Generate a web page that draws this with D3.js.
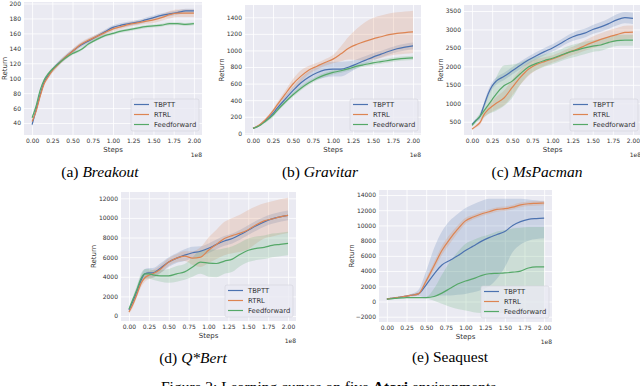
<!DOCTYPE html>
<html><head><meta charset="utf-8">
<script src="https://cdn.jsdelivr.net/npm/d3@7"></script>
<style>
body{margin:0;background:#fff;}
svg{display:block;}
</style></head>
<body>
<svg id="fig" width="640" height="386"></svg>
<script>
// ---------------- data ----------------
const steps = [0, 0.05, 0.1, 0.15, 0.2, 0.25, 0.3, 0.4, 0.5, 0.6, 0.7, 0.8, 0.9, 1.0, 1.1, 1.2, 1.3, 1.4, 1.5, 1.6, 1.7, 1.8, 1.9, 2.0];
const seriesNames = ["TBPTT", "RTRL", "Feedforward"];
const xTicks = [0, 0.25, 0.5, 0.75, 1.0, 1.25, 1.5, 1.75, 2.0];

// Breakout
const breakoutTBPTT = [38, 58, 78, 95, 104, 111, 117, 127, 136, 144, 150, 156, 162, 168, 171, 173, 175, 178, 181, 184, 186, 188, 190, 190];
const breakoutTBPTTErr = [3, 3, 3, 3, 3, 3, 3, 3, 3, 3, 3, 3, 3, 3, 3, 3, 3, 3, 3, 3, 3, 3, 3, 3];
const breakoutRTRL = [42, 56, 76, 93, 102, 110, 116, 127, 136, 145, 151, 156, 161, 166, 169, 172, 174, 176, 178, 181, 185, 187, 187, 187];
const breakoutRTRLErr = [3, 3, 3, 3, 3, 3, 3, 3, 3, 3, 3, 3, 3, 3, 3, 3, 3, 3, 4, 4, 5, 5, 5, 5];
const breakoutFF = [47, 63, 84, 98, 106, 112, 117, 126, 133, 138, 146, 152, 157, 160, 163, 165, 167, 169, 170, 171, 173, 173, 172, 173];
const breakoutFFErr = [2, 2, 2, 2, 2, 2, 2, 2, 2, 2, 2, 2, 2, 2, 2, 2, 2, 2, 2, 2, 2, 2, 2, 2];
const breakoutTicks = [40, 60, 80, 100, 120, 140, 160, 180, 200];

// Gravitar
const gravitarTBPTT = [60, 80, 110, 150, 190, 240, 300, 410, 515, 610, 680, 730, 765, 775, 775, 800, 840, 880, 920, 955, 990, 1020, 1040, 1055];
const gravitarTBPTTErr = [5, 8, 10, 15, 20, 25, 30, 40, 50, 60, 70, 80, 90, 90, 90, 70, 55, 50, 45, 40, 40, 40, 40, 40];
const gravitarRTRL = [60, 85, 115, 160, 210, 270, 340, 470, 595, 690, 765, 810, 855, 895, 960, 1030, 1075, 1110, 1140, 1165, 1190, 1205, 1215, 1225];
const gravitarRTRLErr = [5, 8, 12, 15, 20, 25, 30, 40, 60, 70, 50, 40, 40, 50, 90, 140, 190, 230, 250, 255, 255, 255, 255, 255];
const gravitarFF = [60, 78, 105, 140, 178, 220, 275, 375, 465, 545, 610, 665, 705, 735, 755, 780, 810, 830, 850, 865, 880, 895, 905, 910];
const gravitarFFErr = [5, 8, 10, 15, 20, 25, 25, 25, 25, 25, 25, 25, 25, 25, 25, 25, 25, 25, 25, 25, 25, 25, 25, 25];
const gravitarTicks = [0, 200, 400, 600, 800, 1000, 1200, 1400];

// MsPacman
const mspacmanTBPTT = [430, 540, 650, 950, 1250, 1470, 1600, 1730, 1880, 2030, 2170, 2290, 2400, 2500, 2620, 2750, 2840, 2900, 3000, 3070, 3160, 3260, 3320, 3300];
const mspacmanTBPTTErr = [30, 40, 50, 80, 100, 100, 100, 100, 100, 100, 100, 100, 100, 100, 100, 110, 120, 120, 120, 130, 140, 150, 150, 150];
const mspacmanRTRL = [300, 380, 480, 700, 830, 920, 1000, 1150, 1430, 1700, 1920, 2050, 2130, 2200, 2280, 2380, 2460, 2560, 2650, 2730, 2800, 2860, 2920, 2930];
const mspacmanRTRLErr = [30, 40, 60, 90, 120, 150, 170, 200, 220, 200, 180, 150, 120, 100, 100, 110, 120, 140, 160, 170, 180, 180, 180, 180];
const mspacmanFF = [400, 530, 650, 800, 950, 1100, 1250, 1480, 1600, 1800, 1980, 2080, 2160, 2220, 2300, 2380, 2440, 2500, 2550, 2580, 2650, 2700, 2710, 2710];
const mspacmanFFErr = [40, 60, 100, 180, 250, 350, 450, 550, 450, 300, 220, 180, 170, 160, 160, 170, 170, 170, 160, 160, 150, 150, 150, 150];
const mspacmanTicks = [500, 1000, 1500, 2000, 2500, 3000, 3500];

// Q*Bert
const qbertTBPTT = [600, 1500, 2500, 3600, 4300, 4400, 4400, 4900, 5500, 5900, 6200, 6450, 6600, 6900, 7300, 7650, 7900, 8300, 8750, 9200, 9600, 9900, 10100, 10250];
const qbertTBPTTErr = [200, 300, 400, 500, 500, 500, 500, 500, 500, 500, 600, 600, 500, 500, 500, 500, 500, 500, 500, 500, 500, 500, 500, 500];
const qbertRTRL = [400, 1200, 2200, 3300, 3900, 4150, 4300, 4800, 5500, 5900, 6100, 5900, 6000, 6700, 7300, 7900, 8200, 8450, 8800, 9300, 9700, 9900, 10100, 10250];
const qbertRTRLErr = [200, 300, 300, 400, 400, 400, 400, 400, 400, 400, 500, 700, 1000, 1300, 1500, 1700, 1800, 1900, 2000, 1900, 1800, 1800, 1800, 1800];
const qbertFF = [700, 1700, 2700, 3800, 4300, 4300, 4200, 4100, 4100, 4300, 4500, 5000, 5500, 5400, 5350, 5600, 5800, 6300, 6700, 6900, 7000, 7200, 7300, 7400];
const qbertFFErr = [200, 300, 400, 500, 500, 500, 500, 600, 700, 800, 800, 1000, 1200, 1400, 1400, 1300, 1300, 1200, 1200, 1200, 1200, 1200, 1200, 1200];
const qbertTicks = [0, 2000, 4000, 6000, 8000, 10000, 12000];

// Seaquest
const seaquestTBPTT = [300, 400, 480, 560, 620, 700, 800, 1000, 2200, 3600, 4800, 5400, 6000, 6700, 7300, 7900, 8400, 8800, 9200, 10000, 10500, 10800, 10900, 10950];
const seaquestTBPTTLo = [250, 320, 400, 470, 520, 600, 650, 700, 600, 700, 800, 800, 900, 1000, 1200, 1500, 2000, 3000, 4500, 6500, 7500, 8000, 8200, 8300];
const seaquestTBPTTHi = [350, 480, 560, 650, 720, 800, 950, 1500, 4000, 7000, 9200, 10600, 11500, 12300, 12800, 13200, 13500, 13500, 13500, 13500, 13500, 13400, 13300, 13200];
const seaquestRTRL = [300, 400, 480, 560, 620, 700, 800, 1000, 2700, 4700, 6700, 8200, 9500, 10600, 11100, 11500, 11800, 12100, 12200, 12400, 12700, 12850, 12900, 12950];
const seaquestRTRLLo = [250, 330, 400, 470, 520, 600, 650, 800, 2300, 4200, 6100, 7600, 9000, 10200, 10800, 11200, 11500, 11800, 11900, 12100, 12400, 12550, 12600, 12650];
const seaquestRTRLHi = [350, 470, 560, 650, 720, 800, 950, 1200, 3100, 5200, 7300, 8800, 10000, 11000, 11400, 11800, 12100, 12400, 12500, 12700, 13000, 13150, 13200, 13250];
const seaquestFF = [300, 350, 400, 450, 480, 500, 500, 500, 500, 650, 1100, 1700, 2300, 2700, 3000, 3400, 3650, 3700, 3750, 3850, 4000, 4400, 4550, 4550];
const seaquestFFLo = [250, 300, 350, 400, 430, 450, 450, 450, 400, 100, -300, -700, -1000, -1200, -1400, -1500, -1500, -1500, -1500, -1500, -1500, -1500, -1500, -1500];
const seaquestFFHi = [350, 400, 450, 500, 530, 550, 560, 570, 600, 1700, 3500, 5200, 6500, 7600, 8100, 8500, 8800, 9200, 9400, 9600, 9700, 9800, 9800, 9800];
const seaquestTicks = [-2000, 0, 2000, 4000, 6000, 8000, 10000, 12000, 14000];

// ---------------- styles / layout ----------------
const colors = ["#4c72b0", "#dd8452", "#55a868"];
const sym = (m, e) => ({mean: m, lo: m.map((v, i) => v - e[i]), hi: m.map((v, i) => v + e[i])});

const panels = [
  {series: [sym(breakoutTBPTT, breakoutTBPTTErr), sym(breakoutRTRL, breakoutRTRLErr), sym(breakoutFF, breakoutFFErr)],
   yTicks: breakoutTicks, yDom: [24, 202], box: {l: 24, r: 202, t: 2, b: 135},
   cap: {pre: "(a) ", name: "Breakout", italic: true, x: 100, y: 177}},
  {series: [sym(gravitarTBPTT, gravitarTBPTTErr), sym(gravitarRTRL, gravitarRTRLErr), sym(gravitarFF, gravitarFFErr)],
   yTicks: gravitarTicks, yDom: [-20, 1548], box: {l: 245, r: 421, t: 5, b: 135},
   cap: {pre: "(b) ", name: "Gravitar", italic: true, x: 320, y: 177}},
  {series: [sym(mspacmanTBPTT, mspacmanTBPTTErr), sym(mspacmanRTRL, mspacmanRTRLErr), sym(mspacmanFF, mspacmanFFErr)],
   yTicks: mspacmanTicks, yDom: [140, 3663], box: {l: 464, r: 641, t: 5, b: 135},
   cap: {pre: "(c) ", name: "MsPacman", italic: true, x: 537, y: 177}},
  {series: [sym(qbertTBPTT, qbertTBPTTErr), sym(qbertRTRL, qbertRTRLErr), sym(qbertFF, qbertFFErr)],
   yTicks: qbertTicks, yDom: [-510, 12642], box: {l: 121, r: 296, t: 192, b: 321},
   cap: {pre: "(d) ", name: "Q*Bert", italic: true, x: 193, y: 363}},
  {series: [{mean: seaquestTBPTT, lo: seaquestTBPTTLo, hi: seaquestTBPTTHi},
            {mean: seaquestRTRL, lo: seaquestRTRLLo, hi: seaquestRTRLHi},
            {mean: seaquestFF, lo: seaquestFFLo, hi: seaquestFFHi}],
   yTicks: seaquestTicks, yDom: [-2697, 14657], box: {l: 379, r: 552, t: 190, b: 322},
   cap: {pre: "(e) ", name: "Seaquest", italic: false, x: 450, y: 362}}
];

const svg = d3.select("#fig");
const sans = "'DejaVu Sans', sans-serif";
const serif = "'Liberation Serif', 'Times New Roman', serif";
const fmtY = d => d < 0 ? "\u2212" + Math.abs(d) : String(d);

panels.forEach((p, pi) => {
  const B = p.box, W = B.r - B.l, H = B.b - B.t;
  const x = d3.scaleLinear().domain([-0.1, 2.1]).range([B.l, B.r]);
  const y = d3.scaleLinear().domain(p.yDom).range([B.b, B.t]);
  const clipId = "clip" + pi;
  svg.append("clipPath").attr("id", clipId).append("rect")
    .attr("x", B.l).attr("y", B.t).attr("width", W).attr("height", H);

  svg.append("rect").attr("x", B.l).attr("y", B.t).attr("width", W).attr("height", H).attr("fill", "#eaeaf2");

  const gx = svg.append("g").attr("transform", `translate(0,${B.b})`)
    .call(d3.axisBottom(x).tickValues(xTicks).tickFormat(d3.format(".2f")).tickSize(-H).tickPadding(4));
  const gy = svg.append("g").attr("transform", `translate(${B.l},0)`)
    .call(d3.axisLeft(y).tickValues(p.yTicks).tickFormat(fmtY).tickSize(-W).tickPadding(3));
  [gx, gy].forEach(g => {
    g.select(".domain").remove();
    g.selectAll(".tick line").attr("stroke", "#ffffff").attr("stroke-width", 0.8);
    g.selectAll(".tick text").attr("fill", "#333").style("font-family", sans).style("font-size", "6px");
  });

  const plot = svg.append("g").attr("clip-path", `url(#${clipId})`);
  const area = d3.area().x((d, i) => x(steps[i])).curve(d3.curveMonotoneX);
  const line = d3.line().x((d, i) => x(steps[i])).y(d => y(d)).curve(d3.curveMonotoneX);
  p.series.forEach((s, si) => {
    plot.append("path").datum(s.mean)
      .attr("d", area.y0((d, i) => y(s.lo[i])).y1((d, i) => y(s.hi[i])))
      .attr("fill", colors[si]).attr("fill-opacity", 0.2).attr("stroke", "none");
  });
  p.series.forEach((s, si) => {
    plot.append("path").datum(s.mean).attr("d", line)
      .attr("fill", "none").attr("stroke", colors[si]).attr("stroke-width", 1.2);
  });

  // axis labels
  svg.append("text").attr("x", (x(0) + x(2)) / 2).attr("y", B.b + 17).attr("text-anchor", "middle")
    .style("font-family", sans).style("font-size", "7px").attr("fill", "#333").text("Steps");
  svg.append("text").attr("x", B.r).attr("y", B.b + 22).attr("text-anchor", "end")
    .style("font-family", sans).style("font-size", "6px").attr("fill", "#333").text("1e8");
  const maxLab = d3.max(p.yTicks.map(fmtY), t => t.length) * 6 * 0.636;
  const rx = B.l - 3 - maxLab - 2.5;
  svg.append("text").attr("transform", `translate(${rx},${(B.t + B.b) / 2}) rotate(-90)`)
    .attr("text-anchor", "middle").style("font-family", sans).style("font-size", "7px").attr("fill", "#333").text("Return");

  // legend
  const lw = 68, lh = 32, lx = B.r - 3 - lw, ly = B.b - 4 - lh;
  const lg = svg.append("g").attr("transform", `translate(${lx},${ly})`);
  lg.append("rect").attr("width", lw).attr("height", lh).attr("rx", 2)
    .attr("fill", "#eaeaf2").attr("fill-opacity", 0.8).attr("stroke", "#d4d4dc").attr("stroke-width", 0.6);
  seriesNames.forEach((n, i) => {
    const yy = 5.5 + i * 10;
    lg.append("line").attr("x1", 3).attr("x2", 18).attr("y1", yy).attr("y2", yy)
      .attr("stroke", colors[i]).attr("stroke-width", 1.2);
    lg.append("text").attr("x", 23).attr("y", yy + 2.4).style("font-family", sans).style("font-size", "6.8px")
      .attr("fill", "#333").text(n);
  });

  // caption
  const ct = svg.append("text").attr("x", p.cap.x).attr("y", p.cap.y).attr("text-anchor", "middle")
    .style("font-family", serif).style("font-size", "15.5px").attr("fill", "#000");
  ct.append("tspan").text(p.cap.pre);
  ct.append("tspan").style("font-style", p.cap.italic ? "italic" : "normal").text(p.cap.name);
});

const fc = svg.append("text").attr("x", 161).attr("y", 392).style("font-family", serif).style("font-size", "15.5px").attr("fill", "#000");
fc.append("tspan").text("Figure 2: Learning curves on five ");
fc.append("tspan").style("font-weight", "bold").text("Atari");
fc.append("tspan").text(" environments.");
</script>
</body></html>
